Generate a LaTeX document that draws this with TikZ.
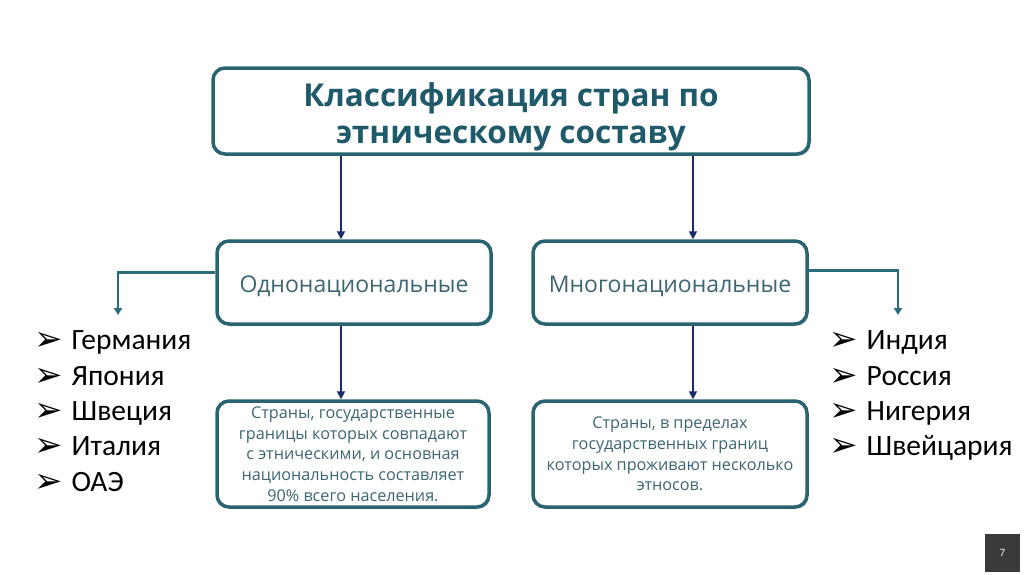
\documentclass[tikz,border=0pt]{standalone}
\usepackage{fontspec}
\setmainfont{Open Sans}
\newfontfamily\listfont{Carlito}
\newfontfamily\symfont{DejaVu Sans}
\usetikzlibrary{arrows.meta,shadows}
\definecolor{boxborder}{HTML}{2A6471}
\definecolor{titletext}{HTML}{1F5A6A}
\definecolor{boxtext}{HTML}{3D6672}
\definecolor{navyline}{HTML}{1B2A6B}
\definecolor{sideline}{HTML}{2A6B7A}
\definecolor{pagebox}{HTML}{3A3A3A}
\newcommand{\blt}{\raisebox{-1pt}{\symfont\fontsize{34}{34}\selectfont ➢}\hspace{9pt}}
\tikzset{
  card/.style={draw=boxborder, line width=3.5pt, rounded corners=12pt, fill=white,
    drop shadow={shadow xshift=1.5pt, shadow yshift=-2pt, opacity=0.3}, align=center, inner sep=0pt},
  navyarrow/.style={draw=navyline, line width=1.8pt, -{Triangle[width=8pt,length=8pt]}},
  sidearrow/.style={draw=sideline, line width=2.6pt, -{Triangle[width=8pt,length=7pt]}},
  item/.style={anchor=base west, inner sep=0pt, font=\listfont\fontsize{29.5}{32}\selectfont},
}
\begin{document}
\begin{tikzpicture}[x=1pt,y=-1pt]
\useasboundingbox (0,0) rectangle (1024,574);
\fill[white] (0,0) rectangle (1024,574);

\node[card, minimum width=596pt, minimum height=86pt, text=titletext,
  font=\bfseries\fontsize{31.5}{37}\selectfont] (top) at (511,111)
  {\rule{0pt}{36pt}Классификация стран по\\этническому составу};

\node[card, minimum width=274pt, minimum height=83pt, text=boxtext,
  font=\fontsize{23}{26}\selectfont] (lm) at (354,282.5) {\rule{0pt}{24pt}Однонациональные};
\node[card, minimum width=274pt, minimum height=83pt, text=boxtext,
  font=\fontsize{23}{26}\selectfont] (rm) at (670,282.5) {\rule{0pt}{24pt}Многонациональные};

\node[card, minimum width=272pt, minimum height=106pt, text=boxtext,
  font=\fontsize{16.2}{20.7}\selectfont] (lb) at (353,454)
  {Страны, государственные\\границы которых совпадают\\с этническими, и основная\\национальность составляет\\90\% всего населения.};
\node[card, minimum width=274pt, minimum height=106pt, text=boxtext,
  font=\fontsize{16.2}{20.7}\selectfont] (rb) at (670,454)
  {Страны, в пределах\\государственных границ\\которых проживают несколько\\этносов.};

\coordinate (c1) at (341,0);
\coordinate (c2) at (693,0);
\draw[navyarrow] (top.south -| c1) -- (lm.north -| c1);
\draw[navyarrow] (top.south -| c2) -- (rm.north -| c2);
\draw[navyarrow] (lm.south -| c1) -- (lb.north -| c1);
\draw[navyarrow] (rm.south -| c2) -- (rb.north -| c2);

\coordinate (la) at (118,315);
\coordinate (ra) at (898,315);
\draw[sidearrow] ([yshift=10pt]lm.west) -| (la);
\draw[sidearrow] ([yshift=12pt]rm.east) -| (ra);

\node[item] (l1) at (34,349) {\blt Германия};
\node[item] (l2) at (34,385) {\blt Япония};
\node[item] (l3) at (34,420) {\blt Швеция};
\node[item] (l4) at (34,455) {\blt Италия};
\node[item] (l5) at (34,491) {\blt ОАЭ};

\node[item] (r1) at (829,349) {\blt Индия};
\node[item] (r2) at (829,385) {\blt Россия};
\node[item] (r3) at (829,420) {\blt Нигерия};
\node[item] (r4) at (829,455) {\blt Швейцария};

\node[fill=pagebox, minimum width=35pt, minimum height=38pt, inner sep=0pt,
  text=white, font=\fontsize{10}{12}\selectfont] (pg) at (1002.5,553) {7};
\end{tikzpicture}
\end{document}
